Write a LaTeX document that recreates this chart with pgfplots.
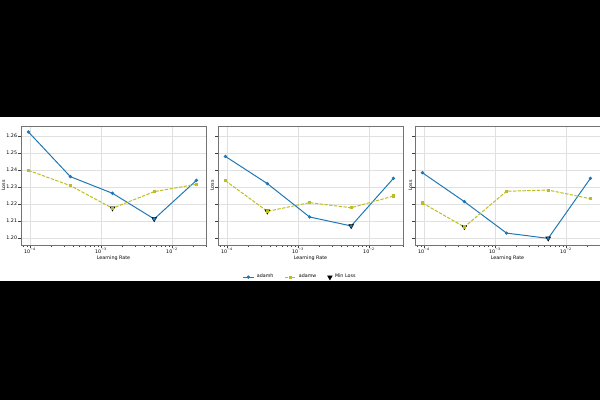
\documentclass[border=0pt]{standalone}
\usepackage{fontspec}
\setmainfont{DejaVu Sans}
\usepackage{pgfplots}
\pgfplotsset{compat=1.18}
\definecolor{cH}{HTML}{1F77B4}
\definecolor{cW}{HTML}{BCBD22}
\pgfplotsset{
 every axis/.append style={
  xmode=log, scale only axis, width=4.625cm, height=2.975cm,
  xmin=7.47e-5, xmax=0.030, ymin=1.1959, ymax=1.2659,
  axis line style={black!55, line width=0.4pt},
  grid=major, major grid style={black!12, line width=0.3pt},
  tick pos=left,
  tick align=outside, tick style={black!75, line width=0.3pt},
  major tick length=2pt, minor tick length=1.2pt,
  xtick={1e-4,1e-3,1e-2},
  xticklabels={10\textsuperscript{−4},10\textsuperscript{−3},10\textsuperscript{−2}},
  minor xtick={8e-5,9e-5,2e-4,3e-4,4e-4,5e-4,6e-4,7e-4,8e-4,9e-4,2e-3,3e-3,4e-3,5e-3,6e-3,7e-3,8e-3,9e-3,2e-2,3e-2},
  ytick={1.20,1.21,1.22,1.23,1.24,1.25,1.26},
  yticklabel style={/pgf/number format/.cd, fixed, fixed zerofill, precision=2, assume math mode=true},
  tick label style={font=\fontsize{3.4}{4}\selectfont, inner sep=0.6pt},
  xticklabel style={yshift=0.3pt},
  title style={font=\fontsize{4.8}{5.5}\selectfont, at={(axis description cs:0.5,1.035)}, anchor=center},
  label style={font=\fontsize{3.4}{4}\selectfont, inner sep=0.5pt},
  xlabel style={at={(axis description cs:0.5,-0.108)}, anchor=center},
  xlabel=Learning Rate, ylabel=Loss,
  anchor=south west,
 },
}
\tikzset{
 hsty/.style={color=cH, line width=0.7pt, mark=*, mark size=0.8pt},
 wsty/.style={color=cW, line width=0.7pt, dash pattern=on 2.4pt off 1pt, mark=square*, mark size=0.75pt, mark options={solid}},
 msty/.style={mark=triangle*, mark size=1.9pt, black, mark options={rotate=180}},
}
\begin{document}
\begin{tikzpicture}
\fill[black] (0,0) rectangle (15,10);
\fill[white] (0,2.975) rectangle (15,7.075);
\useasboundingbox (0,0) rectangle (15,10);
% Panel 1
\begin{axis}[at={(0.525cm,3.875cm)}, title={Width 512},
  ylabel style={at={(axis description cs:-0.095,0.5)}, anchor=center}]
\addplot[msty, only marks] coordinates {(1.45e-3,1.2175) (5.6e-3,1.2112)};
\addplot[hsty] coordinates {(9.5e-5,1.2624) (3.7e-4,1.2361) (1.45e-3,1.2263) (5.6e-3,1.2112) (2.2e-2,1.2339)};
\addplot[wsty] coordinates {(9.5e-5,1.2398) (3.7e-4,1.2308) (1.45e-3,1.2175) (5.6e-3,1.2273) (2.2e-2,1.2316)};
\end{axis}
% Panel 2
\begin{axis}[at={(5.45cm,3.875cm)}, title={Width 1024}, yticklabels={},
  ylabel style={at={(axis description cs:-0.032,0.5)}, anchor=center},
  legend style={at={(0.446,-0.27)}, anchor=center, draw=none, fill=none, legend columns=3,
    font=\fontsize{3.4}{4}\selectfont,
    /tikz/every even column/.append style={column sep=6pt}}]
\addplot[msty, only marks, forget plot] coordinates {(3.7e-4,1.2157) (5.6e-3,1.2071)};
\addplot[hsty, forget plot] coordinates {(9.5e-5,1.2480) (3.7e-4,1.2320) (1.45e-3,1.2124) (5.6e-3,1.2071) (2.2e-2,1.2351)};
\addplot[wsty, forget plot] coordinates {(9.5e-5,1.2337) (3.7e-4,1.2157) (1.45e-3,1.2208) (5.6e-3,1.2178) (2.2e-2,1.2247)};
\addlegendimage{hsty, legend image code/.code={\draw[mark repeat=2,mark phase=2] plot coordinates {(0cm,0cm)(0.13cm,0cm)(0.26cm,0cm)};}}
\addlegendentry{adamh}
\addlegendimage{wsty, dash pattern=on 1.8pt off 0.8pt, legend image code/.code={\draw[mark repeat=2,mark phase=2] plot coordinates {(0cm,0cm)(0.13cm,0cm)(0.26cm,0cm)};}}
\addlegendentry{adamw}
\addlegendimage{msty, only marks}
\addlegendentry{Min Loss}
\end{axis}
% Panel 3
\begin{axis}[at={(10.375cm,3.875cm)}, title={Width 2048}, yticklabels={},
  ylabel style={at={(axis description cs:-0.025,0.5)}, anchor=center}]
\addplot[msty, only marks] coordinates {(3.7e-4,1.2065) (5.6e-3,1.1998)};
\addplot[hsty] coordinates {(9.5e-5,1.2384) (3.7e-4,1.2214) (1.45e-3,1.2029) (5.6e-3,1.1998) (2.2e-2,1.2351)};
\addplot[wsty] coordinates {(9.5e-5,1.2206) (3.7e-4,1.2065) (1.45e-3,1.2275) (5.6e-3,1.2282) (2.2e-2,1.2231)};
\end{axis}
\end{tikzpicture}
\end{document}
